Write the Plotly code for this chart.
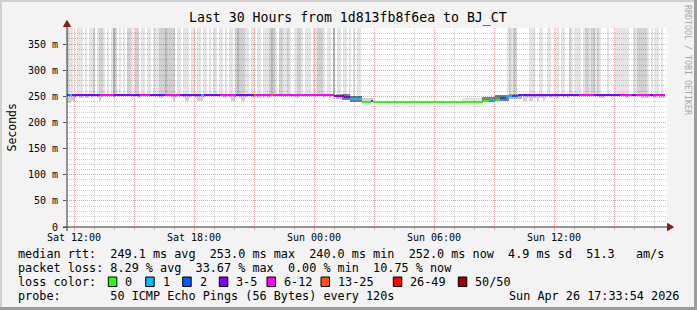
import plotly.graph_objects as go
from datetime import datetime, timedelta

# ---------------- data ----------------
TITLE = "Last 30 Hours from 1d813fb8f6ea to BJ_CT"
view_start = "Sat 11:39"
view_end = "Sun 17:39"
step_minutes = 6

# median rtt (ms) as run segments with loss class
med_start = ["Sat 11:39", "Sat 11:48", "Sat 11:54", "Sat 13:18", "Sat 13:48", "Sat 14:00",
             "Sat 15:18", "Sat 15:48", "Sat 16:33", "Sat 17:18", "Sat 18:21", "Sat 18:30",
             "Sat 19:18", "Sat 20:06", "Sat 21:00", "Sat 21:06", "Sat 21:51", "Sat 21:57",
             "Sun 00:24", "Sun 00:36", "Sun 01:00", "Sun 01:30", "Sun 01:48", "Sun 02:24",
             "Sun 02:51", "Sun 02:57", "Sun 08:27", "Sun 08:45", "Sun 09:06", "Sun 09:18",
             "Sun 09:36", "Sun 09:54", "Sun 10:12", "Sun 10:21", "Sun 10:27", "Sun 13:15",
             "Sun 14:00", "Sun 15:18", "Sun 15:54", "Sun 16:06", "Sun 16:48", "Sun 16:57"]
med_end = "Sun 17:33"
med_ms = [252, 252, 252, 252, 253, 252,
          252, 252, 252, 252, 252, 252,
          252, 252, 252, 252, 252, 252,
          253, 252, 251.5, 249, 245, 240,
          240.5, 240, 242, 244, 243, 247,
          250, 251, 252, 252, 252, 252,
          252, 252, 252, 252, 252, 252]
med_loss = [2, 1, 3, 4, 4, 3,
            4, 3, 4, 3, 1, 3,
            4, 3, 5, 4, 5, 4,
            4, 4, 3, 3, 1, 0,
            2, 0, 0, 1, 0, 2,
            1, 2, 3, 2, 3, 4,
            3, 4, 3, 4, 3, 4]

loss_labels = ["0", "1", "2", "3-5", "6-12", "13-25", "26-49", "50/50"]
loss_colors = ["#26ff00", "#00b8ff", "#0059ff", "#7e00ff", "#ff00ff", "#ff5500", "#ff0000", "#a10000"]

# smoke above the median (density 0-3) per 6-minute step, one string per 3 hours
tail_density = [
    "211001110101120122101013201010",
    "221022011011011122232222011011",
    "101101101101011011010110232221",
    "101101101112321022112100122101",
    "110112221011030110110101011000",
    "000000000000000000000000000000",
    "000000000000000000000000000000",
    "000000000012122000000111001100",
    "110011011002101110122122121000",
    "100011111110011222221010110101",
]
# smoke below the median (depth 0-3) per 6-minute step
low_depth = [
    "332210110110100121000001000000",
    "000001100000000011000012100012",
    "210012221000000000110122101221",
    "001101101011000000000000110000",
    "000000001001010000000000000000",
    "000000000000000000000000000000",
    "000000000000000000000000000000",
    "000000000000000000221221121121",
    "011011001010000000000000001110",
    "000000000110000001111001101110",
]
# dense smoke during the level changes
core_start = ["Sun 01:06", "Sun 01:24", "Sun 01:48", "Sun 02:24", "Sun 07:24", "Sun 08:24", "Sun 09:03", "Sun 09:45"]
core_end = ["Sun 01:24", "Sun 01:48", "Sun 02:24", "Sun 02:57", "Sun 08:24", "Sun 09:03", "Sun 09:45", "Sun 10:24"]
core_lo_ms = [246, 243, 239, 239, 241, 239, 242, 245]
core_hi_ms = [255, 254, 251, 247, 247, 248, 252, 254]
core_density = [3, 4, 4, 2, 1, 4, 4, 3]

ytick_ms = [0, 50, 100, 150, 200, 250, 300, 350]
ytick_text = ["0", "50 m", "100 m", "150 m", "200 m", "250 m", "300 m", "350 m"]
xtick_times = ["Sat 12:00", "Sat 15:00", "Sat 18:00", "Sat 21:00", "Sun 00:00",
               "Sun 03:00", "Sun 06:00", "Sun 09:00", "Sun 12:00", "Sun 15:00"]
xtick_text = ["Sat 12:00", "", "Sat 18:00", "", "Sun 00:00", "", "Sun 06:00", "", "Sun 12:00", ""]

legend_rtt = "median rtt:  249.1 ms avg  253.0 ms max  240.0 ms min  252.0 ms now  4.9 ms sd  51.3   am/s"
legend_loss = "packet loss: 8.29 % avg  33.67 % max  0.00 % min  10.75 % now"
legend_color_title = "loss color:"
legend_probe = "probe:       50 ICMP Echo Pings (56 Bytes) every 120s"
legend_date = "Sun Apr 26 17:33:54 2026"
y_title = "Seconds"
watermark = "RRDTOOL / TOBI OETIKER"

# ---------------- helpers ----------------
DAY = {"Sat": "2026-04-25", "Sun": "2026-04-26"}


def T(s):
    d, hm = s.split()
    return datetime.fromisoformat(DAY[d] + " " + hm)


W, H = 697, 310
PL, PR, PT, PB = 67, 667, 28, 227
YMAX = 381.0


def px(x):
    return (x - PL) / (PR - PL)


def py(y):
    return (PB - y) / (PB - PT)


def nb(s):
    return s.replace(" ", "\u00a0")


FONT = "DejaVu Sans Mono"
SHADE = {1: "rgba(0,0,0,0.10)", 2: "rgba(0,0,0,0.18)", 3: "rgba(0,0,0,0.28)", 4: "rgba(0,0,0,0.50)"}
BAND = 3.8
MS = 60 * 1000

t0 = T(view_start)
tend = T(med_end)
bounds = [T(s) for s in med_start] + [tend]


def median_at(t):
    for k in range(len(med_start)):
        if bounds[k] <= t < bounds[k + 1]:
            return med_ms[k]
    return med_ms[-1]


fig = go.Figure()

# tail smoke
tail = "".join(tail_density)
tx, tb, ty, tc = [], [], [], []
for i, ch in enumerate(tail):
    d = int(ch)
    a = t0 + timedelta(minutes=step_minutes * i)
    if d == 0 or a >= tend:
        continue
    mid = a + timedelta(minutes=step_minutes / 2)
    m = median_at(mid)
    tx.append(mid)
    tb.append(m + BAND / 2)
    ty.append(420 - (m + BAND / 2))
    tc.append(SHADE[d])
fig.add_bar(x=tx, y=ty, base=tb, width=[step_minutes * MS] * len(tx),
            marker=dict(color=tc, line=dict(width=0)), hoverinfo="skip")

# low smoke
low = "".join(low_depth)
lx, lb, ly = [], [], []
for i, ch in enumerate(low):
    d = int(ch)
    a = t0 + timedelta(minutes=step_minutes * i)
    if d == 0 or a >= tend:
        continue
    mid = a + timedelta(minutes=step_minutes / 2)
    m = median_at(mid)
    lx.append(mid)
    lb.append(m - BAND / 2 - 4 * d)
    ly.append(4 * d)
fig.add_bar(x=lx, y=ly, base=lb, width=[step_minutes * MS] * len(lx),
            marker=dict(color=SHADE[2], line=dict(width=0)), hoverinfo="skip")

# core smoke
cx, cb, cy, cw, cc = [], [], [], [], []
for a_s, b_s, lo, hi, d in zip(core_start, core_end, core_lo_ms, core_hi_ms, core_density):
    a, b = T(a_s), T(b_s)
    cx.append(a + (b - a) / 2)
    cw.append((b - a).total_seconds() * 1000)
    cb.append(lo)
    cy.append(hi - lo)
    cc.append(SHADE[d])
fig.add_bar(x=cx, y=cy, base=cb, width=cw, marker=dict(color=cc, line=dict(width=0)), hoverinfo="skip")

# median band coloured by loss
mx, mb, mw, mc = [], [], [], []
for k in range(len(med_start)):
    a, b = bounds[k], bounds[k + 1]
    mx.append(a + (b - a) / 2)
    mw.append((b - a).total_seconds() * 1000)
    mb.append(med_ms[k] - BAND / 2)
    mc.append(loss_colors[med_loss[k]])
fig.add_bar(x=mx, y=[BAND] * len(mx), base=mb, width=mw,
            marker=dict(color=mc, line=dict(width=0)), hoverinfo="skip")

GRID = "#CFCFCF"
MGRID = "#F2A0A0"

hours = []
h = T("Sat 12:00")
while h <= T(view_end):
    hours.append(h)
    h += timedelta(hours=1)

fig.update_layout(
    width=W, height=H,
    margin=dict(l=PL, r=W - PR, t=PT, b=H - PB, pad=0),
    paper_bgcolor="#F3F3F3", plot_bgcolor="#FFFFFF",
    showlegend=False, barmode="overlay", bargap=0,
    font=dict(family=FONT, size=10, color="#000000"),
    xaxis=dict(type="date", range=[t0, T(view_end)], tickmode="array",
               tickvals=[T(s) for s in xtick_times], ticktext=xtick_text,
               showgrid=True, gridcolor=MGRID, griddash="1px,1px", gridwidth=1,
               ticks="outside", ticklen=3, tickcolor=MGRID, zeroline=False, showline=False,
               ticklabelstandoff=-2,
               tickfont=dict(family=FONT, size=10, color="#000"),
               minor=dict(tickmode="array", tickvals=hours, showgrid=True, gridcolor=GRID,
                          griddash="1px,1px", ticks="outside", ticklen=2, tickcolor="#BBBBBB"),
               fixedrange=True),
    yaxis=dict(range=[0, YMAX], tickmode="array", tickvals=ytick_ms, ticktext=ytick_text,
               showgrid=True, gridcolor=MGRID, griddash="1px,1px", gridwidth=1,
               ticks="outside", ticklen=3, tickcolor="#555555", zeroline=False, showline=False,
               ticklabelstandoff=3,
               tickfont=dict(family=FONT, size=10, color="#000"),
               minor=dict(tickmode="array", tickvals=[v for v in range(10, 381, 10) if v % 50],
                          showgrid=True, gridcolor=GRID, griddash="1px,1px", ticks=""),
               fixedrange=True),
)

shapes = []
# frame borders
shapes.append(dict(type="rect", xref="paper", yref="paper", x0=px(0), x1=px(W), y0=py(0), y1=py(2),
                   fillcolor="#D0D0D0", line=dict(width=0), layer="above"))
shapes.append(dict(type="rect", xref="paper", yref="paper", x0=px(0), x1=px(2), y0=py(0), y1=py(H),
                   fillcolor="#D0D0D0", line=dict(width=0), layer="above"))
shapes.append(dict(type="rect", xref="paper", yref="paper", x0=px(W - 3), x1=px(W), y0=py(0), y1=py(H),
                   fillcolor="#9C9C9C", line=dict(width=0), layer="above"))
shapes.append(dict(type="rect", xref="paper", yref="paper", x0=px(0), x1=px(W), y0=py(H - 3), y1=py(H),
                   fillcolor="#9C9C9C", line=dict(width=0), layer="above"))
# axes
AX = "#333333"
shapes.append(dict(type="line", xref="paper", yref="paper", x0=px(63), x1=px(668), y0=py(227), y1=py(227),
                   line=dict(color=AX, width=1), layer="above"))
shapes.append(dict(type="line", xref="paper", yref="paper", x0=px(67), x1=px(67), y0=py(231), y1=py(25),
                   line=dict(color=AX, width=1), layer="above"))
ARW = "#8B1A1A"
shapes.append(dict(type="path", xref="paper", yref="paper",
                   path=f"M {px(63.5)} {py(26.5)} L {px(67)} {py(20.5)} L {px(70.5)} {py(26.5)} Z",
                   fillcolor=ARW, line=dict(color=ARW, width=1), layer="above"))
shapes.append(dict(type="path", xref="paper", yref="paper",
                   path=f"M {px(667.5)} {py(223.5)} L {px(673.5)} {py(227)} L {px(667.5)} {py(230.5)} Z",
                   fillcolor=ARW, line=dict(color=ARW, width=1), layer="above"))
# loss colour swatches
box_x = [108.3, 145.7, 182.7, 219.3, 267.0, 321.0, 393.3, 458.3]
for bx, col in zip(box_x, loss_colors):
    shapes.append(dict(type="rect", xref="paper", yref="paper", x0=px(bx), x1=px(bx + 8.5),
                       y0=py(277), y1=py(286.5), fillcolor=col, line=dict(color="#000", width=1), layer="above"))
fig.update_layout(shapes=shapes)

ann = []
ann.append(dict(text=nb(TITLE), x=px(347.5), y=py(18.5), xref="paper", yref="paper", showarrow=False,
                xanchor="center", yanchor="middle", font=dict(family=FONT, size=13.2, color="#000")))
ann.append(dict(text=y_title, x=px(11), y=py(127.5), xref="paper", yref="paper", showarrow=False,
                xanchor="center", yanchor="middle", textangle=-90, font=dict(family=FONT, size=11.5, color="#000")))
ann.append(dict(text=nb(watermark), x=px(688), y=py(60), xref="paper", yref="paper", showarrow=False,
                xanchor="center", yanchor="middle", textangle=90, font=dict(family=FONT, size=8.3, color="#A8A8A8")))
rows_y = [254.3, 268.3, 282.3, 296.2]
for txt, yy in zip([legend_rtt, legend_loss, legend_color_title, legend_probe], rows_y):
    ann.append(dict(text=nb(txt), x=px(16), y=py(yy), xref="paper", yref="paper", showarrow=False,
                    xanchor="left", yanchor="middle", font=dict(family=FONT, size=11.8, color="#000")))
for bx, lab in zip(box_x, loss_labels):
    ann.append(dict(text=lab, x=px(bx + 15), y=py(rows_y[2]), xref="paper", yref="paper", showarrow=False,
                    xanchor="left", yanchor="middle", font=dict(family=FONT, size=11.8, color="#000")))
ann.append(dict(text=nb(legend_date), x=px(680.5), y=py(rows_y[3]), xref="paper", yref="paper", showarrow=False,
                xanchor="right", yanchor="middle", font=dict(family=FONT, size=11.8, color="#000")))
fig.update_layout(annotations=ann)

fig.write_html("out.html", config={"displayModeBar": False, "staticPlot": True})
